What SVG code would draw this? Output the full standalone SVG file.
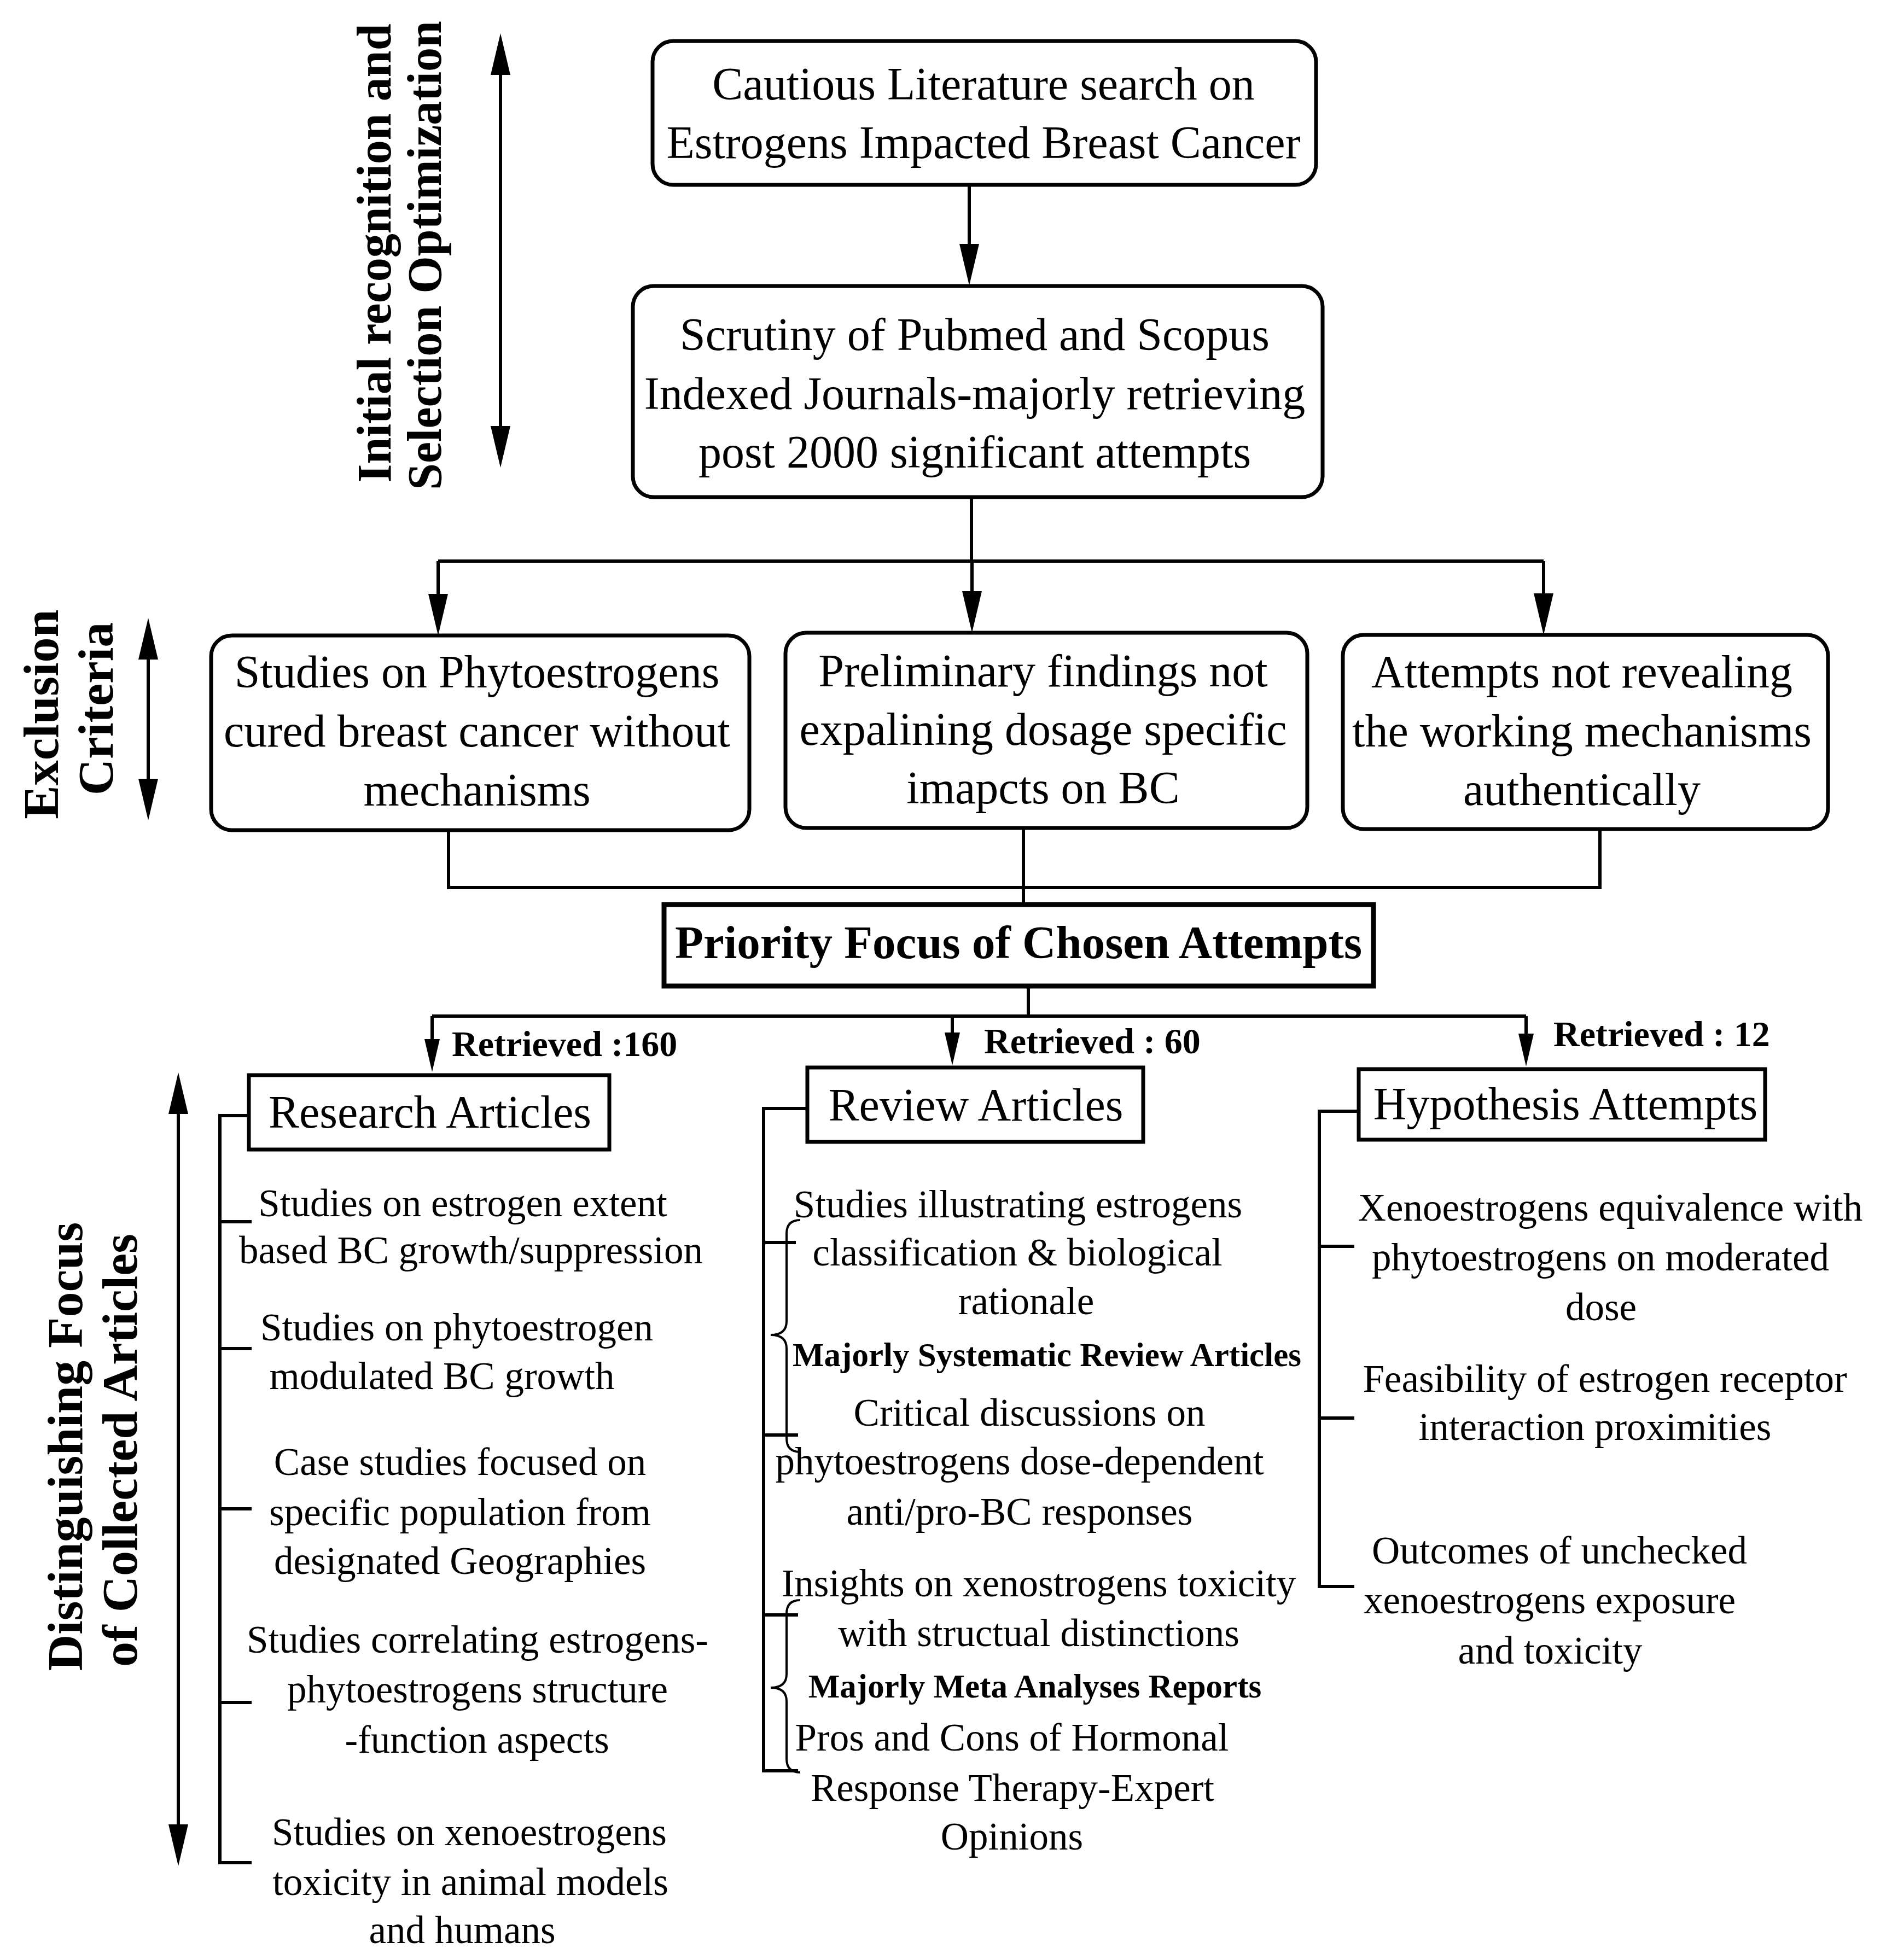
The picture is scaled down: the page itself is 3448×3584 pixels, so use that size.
<svg xmlns="http://www.w3.org/2000/svg" width="3448" height="3584" viewBox="0 0 3448 3584">
<style>
  text { font-family: "Liberation Serif", "Times New Roman", serif; fill: #000; }
  .box { font-size: 84px; text-anchor: middle; }
  .item { font-size: 71px; text-anchor: middle; }
  .side { font-size: 92px; font-weight: bold; text-anchor: middle; }
  .side88 { font-size: 88px; font-weight: bold; text-anchor: middle; }
  .ret { font-size: 66px; font-weight: bold; }
  .sub { font-size: 61px; font-weight: bold; text-anchor: middle; }
  .prio { font-size: 85px; font-weight: bold; text-anchor: middle; }
  .rbox { fill: #fff; stroke: #000; stroke-width: 7; }
  .sbox { fill: #fff; stroke: #000; stroke-width: 7; }
  .pbox { fill: #fff; stroke: #000; stroke-width: 9; }
  .ln { fill: none; stroke: #000; stroke-width: 6; }
  .br { fill: none; stroke: #000; stroke-width: 4; }
</style>
<defs>
  <marker id="ahL" viewBox="0 0 76 36" refX="56" refY="18" markerWidth="76" markerHeight="36" markerUnits="userSpaceOnUse" orient="auto-start-reverse">
    <path d="M0,0 L76,18 L0,36 Z" fill="#000"/>
  </marker>
  <marker id="ahS" viewBox="0 0 60 28" refX="44" refY="14" markerWidth="60" markerHeight="28" markerUnits="userSpaceOnUse" orient="auto">
    <path d="M0,0 L60,14 L0,28 Z" fill="#000"/>
  </marker>
</defs>
<rect x="0" y="0" width="3448" height="3584" fill="#fff"/>

<g id="connectors">
  <line class="ln" x1="1772" y1="338" x2="1772" y2="502" marker-end="url(#ahL)"/>
  <path class="ln" d="M1776,909 V1026"/>
  <path class="ln" d="M801,1026 H2822"/>
  <line class="ln" x1="801" y1="1026" x2="801" y2="1142" marker-end="url(#ahL)"/>
  <line class="ln" x1="1777" y1="1026" x2="1777" y2="1137" marker-end="url(#ahL)"/>
  <line class="ln" x1="2822" y1="1026" x2="2822" y2="1141" marker-end="url(#ahL)"/>
  <path class="ln" d="M820,1518 V1623 H2925 V1516"/>
  <path class="ln" d="M1871,1514 V1654"/>
  <path class="ln" d="M1880,1803 V1858"/>
  <path class="ln" d="M790,1858 H2790"/>
  <line class="ln" x1="790" y1="1858" x2="790" y2="1944" marker-end="url(#ahS)"/>
  <line class="ln" x1="1741" y1="1858" x2="1741" y2="1932" marker-end="url(#ahS)"/>
  <line class="ln" x1="2790" y1="1858" x2="2790" y2="1934" marker-end="url(#ahS)"/>
  <line class="ln" x1="915" y1="81" x2="915" y2="835" marker-start="url(#ahL)" marker-end="url(#ahL)"/>
  <line class="ln" x1="271" y1="1150" x2="271" y2="1480" marker-start="url(#ahL)" marker-end="url(#ahL)"/>
  <line class="ln" x1="326" y1="1981" x2="326" y2="3392" marker-start="url(#ahL)" marker-end="url(#ahL)"/>
  <path class="ln" d="M460,2040 H402 V3406 H460"/>
  <path class="ln" d="M402,2234 H460 M402,2466 H460 M402,2759 H460 M402,3113 H460"/>
  <path class="ln" d="M1476,2027 H1396 V3238 H1459"/>
  <path class="ln" d="M1396,2272 H1455 M1396,2624 H1459 M1396,2953 H1459"/>
  <path class="br" d="M1463,2231 Q1438,2231 1438,2256 V2416 Q1438,2441 1409,2441 Q1438,2441 1438,2466 V2630 Q1438,2655 1463,2655"/>
  <path class="br" d="M1463,2926 Q1438,2926 1438,2951 V3061 Q1438,3086 1409,3086 Q1438,3086 1438,3111 V3216 Q1438,3241 1463,3241"/>
  <path class="ln" d="M2484,2032 H2412 V2901 H2476"/>
  <path class="ln" d="M2412,2279 H2476 M2412,2593 H2476"/>
</g>

<g id="label-initial">
  <text class="side88" transform="translate(714,463) rotate(-90)">Initial recognition and</text>
  <text class="side88" transform="translate(806,467) rotate(-90)">Selection Optimization</text>
</g>
<g id="label-exclusion">
  <text class="side" transform="translate(106,1306) rotate(-90)">Exclusion</text>
  <text class="side" transform="translate(206,1296) rotate(-90)">Criteria</text>
</g>
<g id="label-distinguishing">
  <text class="side" transform="translate(150,2645) rotate(-90)">Distinguishing Focus</text>
  <text class="side" transform="translate(250,2652) rotate(-90)">of Collected Articles</text>
</g>

<g id="node-search">
  <rect class="rbox" x="1193" y="75" width="1213" height="263" rx="38"/>
  <text class="box" x="1798" y="182">Cautious Literature search on</text>
  <text class="box" x="1798" y="289">Estrogens Impacted Breast Cancer</text>
</g>
<g id="node-scrutiny">
  <rect class="rbox" x="1157" y="523" width="1261" height="386" rx="38"/>
  <text class="box" x="1782" y="640">Scrutiny of Pubmed and Scopus</text>
  <text class="box" x="1782" y="748">Indexed Journals-majorly retrieving</text>
  <text class="box" x="1782" y="855">post 2000 significant attempts</text>
</g>
<g id="node-excl-a">
  <rect class="rbox" x="386" y="1162" width="984" height="356" rx="38"/>
  <text class="box" x="872" y="1257">Studies on Phytoestrogens</text>
  <text class="box" x="872" y="1365">cured breast cancer without</text>
  <text class="box" x="872" y="1473">mechanisms</text>
</g>
<g id="node-excl-b">
  <rect class="rbox" x="1436" y="1157" width="954" height="357" rx="38"/>
  <text class="box" x="1907" y="1255">Preliminary findings not</text>
  <text class="box" x="1907" y="1362">expalining dosage specific</text>
  <text class="box" x="1907" y="1469">imapcts on BC</text>
</g>
<g id="node-excl-c">
  <rect class="rbox" x="2455" y="1161" width="887" height="355" rx="38"/>
  <text class="box" x="2892" y="1257">Attempts not revealing</text>
  <text class="box" x="2892" y="1365">the working mechanisms</text>
  <text class="box" x="2892" y="1472">authentically</text>
</g>
<g id="node-priority">
  <rect class="pbox" x="1214" y="1654" width="1297" height="149"/>
  <text class="prio" x="1862" y="1752">Priority Focus of Chosen Attempts</text>
</g>

<g id="label-retrieved">
  <text class="ret" x="826" y="1931">Retrieved :160</text>
  <text class="ret" x="1799" y="1926">Retrieved : 60</text>
  <text class="ret" x="2840" y="1913">Retrieved : 12</text>
</g>

<g id="node-research">
  <rect class="sbox" x="455" y="1966" width="659" height="136"/>
  <text class="box" x="786" y="2062">Research Articles</text>
</g>
<g id="node-review">
  <rect class="sbox" x="1476" y="1952" width="614" height="136"/>
  <text class="box" x="1784" y="2049">Review Articles</text>
</g>
<g id="node-hypothesis">
  <rect class="sbox" x="2484" y="1955" width="743" height="129"/>
  <text class="box" x="2862" y="2047">Hypothesis Attempts</text>
</g>

<g id="research-items">
  <g id="r1"><text class="item" x="846" y="2224">Studies on estrogen extent</text><text class="item" x="861" y="2310">based BC growth/suppression</text></g>
  <g id="r2"><text class="item" x="835" y="2451">Studies on phytoestrogen</text><text class="item" x="808" y="2540">modulated BC growth</text></g>
  <g id="r3"><text class="item" x="841" y="2697">Case studies focused on</text><text class="item" x="841" y="2789">specific population from</text><text class="item" x="841" y="2878">designated Geographies</text></g>
  <g id="r4"><text class="item" x="873" y="3022">Studies correlating estrogens-</text><text class="item" x="873" y="3113">phytoestrogens structure</text><text class="item" x="872" y="3205">-function aspects</text></g>
  <g id="r5"><text class="item" x="858" y="3374">Studies on xenoestrogens</text><text class="item" x="860" y="3465">toxicity in animal models</text><text class="item" x="845" y="3553">and humans</text></g>
</g>

<g id="review-items">
  <g id="v1"><text class="item" x="1861" y="2226">Studies illustrating estrogens</text><text class="item" x="1860" y="2314">classification &amp; biological</text><text class="item" x="1876" y="2403">rationale</text></g>
  <g id="v-sys"><text class="sub" x="1914" y="2498">Majorly Systematic Review Articles</text></g>
  <g id="v2"><text class="item" x="1882" y="2607">Critical discussions on</text><text class="item" x="1864" y="2696">phytoestrogens dose-dependent</text><text class="item" x="1864" y="2788">anti/pro-BC responses</text></g>
  <g id="v3"><text class="item" x="1899" y="2919">Insights on xenostrogens toxicity</text><text class="item" x="1899" y="3010">with structual distinctions</text></g>
  <g id="v-meta"><text class="sub" x="1892" y="3104">Majorly Meta Analyses Reports</text></g>
  <g id="v4"><text class="item" x="1850" y="3201">Pros and Cons of Hormonal</text><text class="item" x="1851" y="3293">Response Therapy-Expert</text><text class="item" x="1850" y="3382">Opinions</text></g>
</g>

<g id="hypothesis-items">
  <g id="h1"><text class="item" x="2944" y="2232">Xenoestrogens equivalence with</text><text class="item" x="2926" y="2323">phytoestrogens on moderated</text><text class="item" x="2927" y="2414">dose</text></g>
  <g id="h2"><text class="item" x="2934" y="2545">Feasibility of estrogen receptor</text><text class="item" x="2916" y="2633">interaction proximities</text></g>
  <g id="h3"><text class="item" x="2851" y="2859">Outcomes of unchecked</text><text class="item" x="2833" y="2950">xenoestrogens exposure</text><text class="item" x="2834" y="3042">and toxicity</text></g>
</g>
</svg>
